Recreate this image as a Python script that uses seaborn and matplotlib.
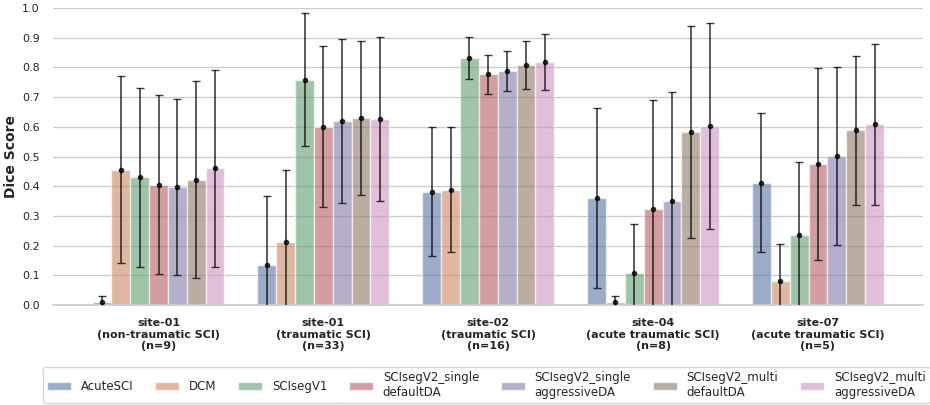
import matplotlib.pyplot as plt
import numpy as np
import pandas as pd
import seaborn as sns

# sites (x tick labels)
sites = [
    "site-01\n(non-traumatic SCI)\n(n=9)",
    "site-01\n(traumatic SCI)\n(n=33)",
    "site-02\n(traumatic SCI)\n(n=16)",
    "site-04\n(acute traumatic SCI)\n(n=8)",
    "site-07\n(acute traumatic SCI)\n(n=5)",
]
models = [
    "AcuteSCI", "DCM", "SCIsegV1",
    "SCIsegV2_single\ndefaultDA", "SCIsegV2_single\naggressiveDA",
    "SCIsegV2_multi\ndefaultDA", "SCIsegV2_multi\naggressiveDA",
]

# mean dice per model, one value per site
acutesci_mean = [0.010, 0.135, 0.381, 0.361, 0.412]
dcm_mean = [0.455, 0.213, 0.388, 0.011, 0.081]
scisegv1_mean = [0.430, 0.758, 0.831, 0.108, 0.236]
single_default_mean = [0.405, 0.601, 0.777, 0.322, 0.475]
single_aggr_mean = [0.397, 0.619, 0.789, 0.351, 0.501]
multi_default_mean = [0.422, 0.631, 0.809, 0.583, 0.588]
multi_aggr_mean = [0.460, 0.626, 0.819, 0.604, 0.608]

# standard deviation per model, one value per site
acutesci_std = [0.020, 0.233, 0.217, 0.304, 0.234]
dcm_std = [0.315, 0.240, 0.210, 0.018, 0.125]
scisegv1_std = [0.302, 0.224, 0.071, 0.166, 0.245]
single_default_std = [0.302, 0.270, 0.065, 0.368, 0.324]
single_aggr_std = [0.297, 0.276, 0.068, 0.368, 0.299]
multi_default_std = [0.332, 0.259, 0.081, 0.358, 0.250]
multi_aggr_std = [0.332, 0.277, 0.094, 0.347, 0.271]

means = [acutesci_mean, dcm_mean, scisegv1_mean, single_default_mean,
         single_aggr_mean, multi_default_mean, multi_aggr_mean]
stds = [acutesci_std, dcm_std, scisegv1_std, single_default_std,
        single_aggr_std, multi_default_std, multi_aggr_std]

rows = []
for m, mu, sd in zip(models, means, stds):
    for s, a, b in zip(sites, mu, sd):
        rows.append({"site": s, "model": m, "dice": a, "std": b})
df = pd.DataFrame(rows)

sns.set_theme(style="whitegrid")
plt.rcParams['font.family'] = ['DejaVu Sans']

fig = plt.figure(figsize=(9.3, 4.05), dpi=100)
ax = fig.add_axes([0.057, 0.247, 0.936, 0.733])

palette = sns.color_palette("deep", len(models))
sns.barplot(data=df, x="site", y="dice", hue="model", order=sites, hue_order=models,
            palette=palette, alpha=0.6, errorbar=None, edgecolor="white", linewidth=1,
            ax=ax)

# error bars on top of the bars (mean +- std)
for cont, m in zip(ax.containers, models):
    sub = df[df["model"] == m].set_index("site").loc[sites]
    xs = [p.get_x() + p.get_width() / 2 for p in cont.patches]
    ax.errorbar(xs, sub["dice"].values, yerr=sub["std"].values, fmt="o", color="black",
                markersize=3, elinewidth=1.2, capsize=3, capthick=1, alpha=0.75, zorder=5)

ax.set_ylim(0, 1.0)
ax.set_xlim(-0.64, 4.64)
ax.set_yticks(np.arange(0, 1.01, 0.1))
ax.yaxis.set_major_formatter(plt.FormatStrFormatter("%.1f"))
ax.tick_params(axis="y", labelsize=8)
ax.tick_params(axis="x", labelsize=8)
for t in ax.get_xticklabels():
    t.set_fontweight("bold")
ax.set_xlabel("")
ax.set_ylabel("Dice Score", fontsize=10, fontweight="bold", labelpad=3)
ax.xaxis.grid(False)
sns.despine(ax=ax, left=True)

handles, labels = ax.get_legend_handles_labels()
ax.get_legend().remove()
fig.legend(handles, labels, loc="lower center", bbox_to_anchor=(0.523, 0.0), ncol=7,
           fontsize=8.5, frameon=True, handlelength=2.0, handletextpad=0.85,
           columnspacing=1.85, borderaxespad=0.15, borderpad=0.35)

plt.savefig("out.png", dpi=100)
